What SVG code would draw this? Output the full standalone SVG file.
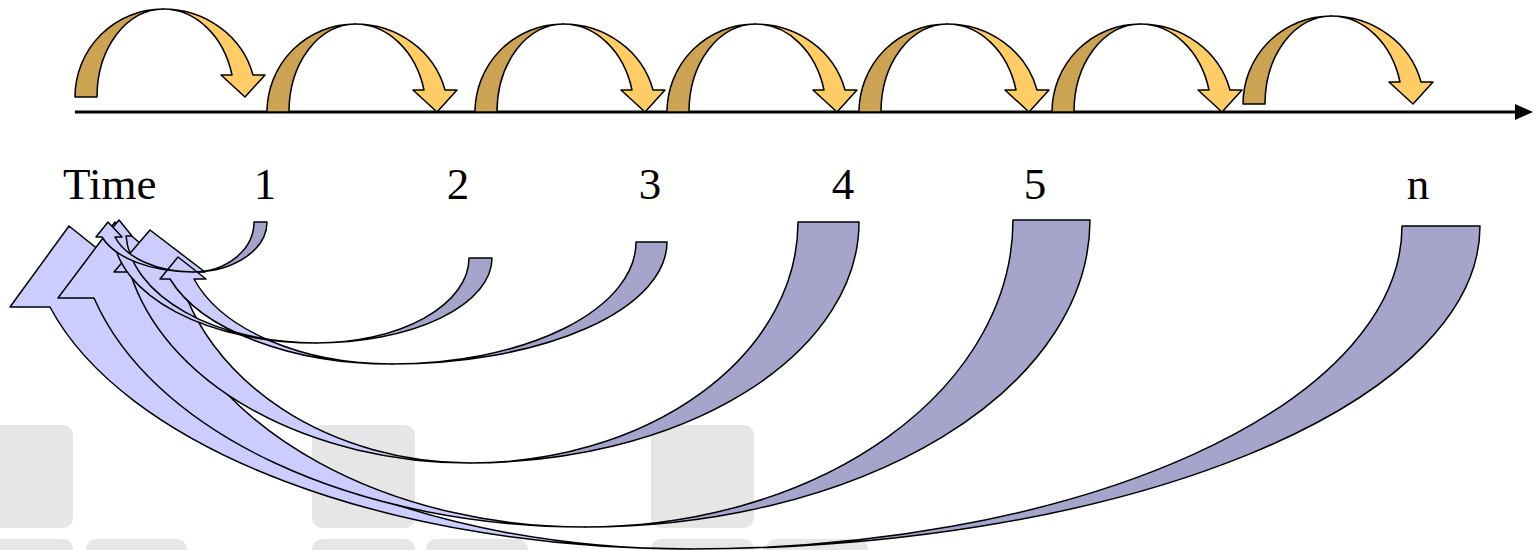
<svg xmlns="http://www.w3.org/2000/svg" width="1534" height="550" viewBox="0 0 1534 550">
<style>
.bg{fill:#E6E6E6}
.od{fill:#CCA352;stroke:#000;stroke-width:1.5;stroke-linejoin:round}
.ol{fill:#FFCC66;stroke:#000;stroke-width:1.5;stroke-linejoin:round}
.bd{fill:#A5A5CC;stroke:#000;stroke-width:1.5;stroke-linejoin:round}
.bl{fill:#CCCCFF;stroke:#000;stroke-width:1.5;stroke-linejoin:round}
text{font-family:"Liberation Serif","Times New Roman",serif;font-size:45px;fill:#000}
</style>
<defs>
<g id="up">
<path class="od" d="M0,0 A88,88 0 0 1 88,-88 A66,88 0 0 0 22,0 Z"/>
<path class="ol" d="M88,-88 A93,88 0 0 1 178,-22 L190,-22 L170,0 L146,-22 L157,-22 A71,88 0 0 0 88,-88 Z"/>
</g>
</defs>
<g id="background">
<rect class="bg" x="-40" y="425" width="113" height="103" rx="10"/>
<rect class="bg" x="312" y="425" width="103" height="103" rx="10"/>
<rect class="bg" x="651" y="425" width="103" height="103" rx="10"/>
<rect class="bg" x="-40" y="539" width="113" height="103" rx="10"/>
<rect class="bg" x="86" y="539" width="101" height="103" rx="10"/>
<rect class="bg" x="312" y="539" width="103" height="103" rx="10"/>
<rect class="bg" x="426" y="539" width="102" height="103" rx="10"/>
<rect class="bg" x="651" y="539" width="103" height="103" rx="10"/>
<rect class="bg" x="766" y="539" width="102" height="103" rx="10"/>
</g>
<g id="connectors">
<g id="back-n">
<path class="bd" d="M1402,226 L1480,226 A790,323 0 0 1 690,549 A712,323 0 0 0 1402,226 Z"/>
<path class="bl" d="M690,549 A661,323 0 0 1 50,307 L10,307 L69,226 L170,307 L128,307 A580,323 0 0 0 690,549 Z"/>
</g>
<g id="back-5">
<path class="bd" d="M1013,220 L1090,220 A505,307 0 0 1 585,527 A428,307 0 0 0 1013,220 Z"/>
<path class="bl" d="M585,527 A508,307 0 0 1 94,298 L58,298 L115,222 L205,298 L165,298 A434,307 0 0 0 585,527 Z"/>
</g>
<g id="back-4">
<path class="bd" d="M798,222 L859,222 A389,241 0 0 1 470,463 A328,241 0 0 0 798,222 Z"/>
<path class="bl" d="M470,463 A348,241 0 0 1 130,272 L114,272 L150,230 L205,272 L178,272 A300,241 0 0 0 470,463 Z"/>
</g>
<g id="back-3">
<path class="bd" d="M636,242 L667,242 A275,122 0 0 1 392,364 A244,122 0 0 0 636,242 Z"/>
<path class="bl" d="M392,364 A233,122 0 0 1 170,279 L160,279 L178,257 L206,279 L194,279 A208,122 0 0 0 392,364 Z"/>
</g>
<g id="back-2">
<path class="bd" d="M469,258 L492,258 A176,85 0 0 1 316,343 A153,85 0 0 0 469,258 Z"/>
<path class="bl" d="M316,343 A203,113 0 0 1 113,236 L106,236 L119,220 L132,236 L126,236 A190,113 0 0 0 316,343 Z"/>
</g>
<g id="back-1">
<path class="bd" d="M254,222 L267,222 A74,50 0 0 1 193,272 A61,50 0 0 0 254,222 Z"/>
<path class="bl" d="M193,272 A95,50 0 0 1 102,237 L96,237 L108,222 L122,237 L115,237 A82,50 0 0 0 193,272 Z"/>
</g>
</g>
<g id="timeline">
<line x1="75" y1="112" x2="1517" y2="112" stroke="#000" stroke-width="3"/>
<polygon points="1515,104 1533,112 1515,120" fill="#000"/>
</g>
<g id="step1"><use href="#up" transform="translate(75,97)"/></g>
<g id="step2"><use href="#up" transform="translate(267,112)"/></g>
<g id="step3"><use href="#up" transform="translate(475,112)"/></g>
<g id="step4"><use href="#up" transform="translate(667,112)"/></g>
<g id="step5"><use href="#up" transform="translate(859,112)"/></g>
<g id="step6"><use href="#up" transform="translate(1052,112)"/></g>
<g id="step7"><use href="#up" transform="translate(1243,104)"/></g>
<g id="labels">
<text x="63" y="199">Time</text>
<text x="265" y="199" text-anchor="middle">1</text>
<text x="458" y="199" text-anchor="middle">2</text>
<text x="650" y="199" text-anchor="middle">3</text>
<text x="843" y="199" text-anchor="middle">4</text>
<text x="1035" y="199" text-anchor="middle">5</text>
<text x="1418" y="199" text-anchor="middle">n</text>
</g>
</svg>
